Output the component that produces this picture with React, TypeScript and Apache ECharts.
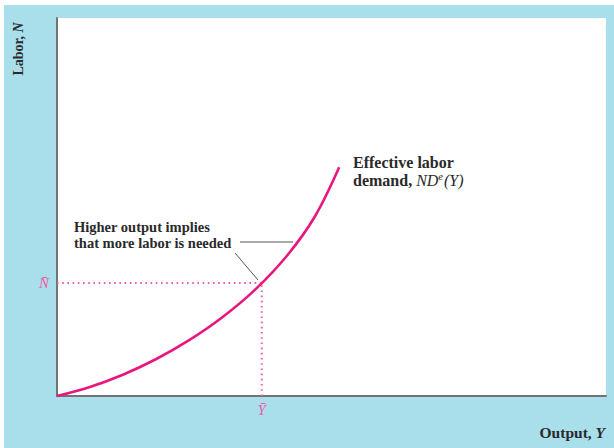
import React, { useEffect, useRef } from "react";
import * as echarts from "echarts";

// Effective labor demand curve ND^e(Y): output (x) vs labor (y), axis units 0..100
const outputY = [0, 6, 12, 18, 24, 30, 36, 42, 47, 51.4];
const laborN = [0, 2.4, 5.64, 9.72, 14.7, 20.7, 28.0, 37.3, 47.55, 60.5];
const yBar = 37.3;
const nBar = 29.9;
const barLabels = ["Y\u0304", "N\u0304"];
const curveLabel = ["Effective labor", "demand, "];
const noteLines = ["Higher output implies", "that more labor is needed"];

const MAGENTA = "#e8177f";
const DOT = "#ee5fa3";
const TEXT = "#2a2a2a";
const SERIF = "'Liberation Serif', 'DejaVu Serif', serif";

export default function App() {
  const ref = useRef<HTMLDivElement>(null);
  useEffect(() => {
    if (!ref.current) return;
    const chart = echarts.init(ref.current, null, { renderer: "svg" });
    const curve = outputY.map((x, i) => [x, laborN[i]]);
    const barLabelStyle = {
      show: true,
      color: DOT,
      fontFamily: SERIF,
      fontStyle: "italic",
      fontSize: 15,
    };
    chart.setOption({
      animation: false,
      backgroundColor: "#a9deeb",
      grid: {
        left: 57,
        top: 18,
        right: 8,
        bottom: 52,
        show: true,
        backgroundColor: "#ffffff",
        borderWidth: 0,
      },
      xAxis: {
        type: "value",
        min: 0,
        max: 100,
        axisLine: { show: true, lineStyle: { color: "#737373", width: 2 } },
        axisTick: { show: false },
        axisLabel: {
          ...barLabelStyle,
          customValues: [yBar],
          margin: 6,
          formatter: () => barLabels[0],
        },
        splitLine: { show: false },
      },
      yAxis: {
        type: "value",
        min: 0,
        max: 100,
        axisLine: { show: true, lineStyle: { color: "#737373", width: 2 } },
        axisTick: { show: false },
        axisLabel: {
          ...barLabelStyle,
          customValues: [nBar],
          margin: 8,
          formatter: () => barLabels[1],
        },
        splitLine: { show: false },
      },
      series: [
        {
          type: "line",
          data: [
            [0, nBar],
            [yBar, nBar],
          ],
          symbol: "none",
          lineStyle: { color: DOT, width: 2, type: [1.6, 3.6] },
          z: 2,
        },
        {
          type: "line",
          data: [
            [yBar, 0],
            [yBar, nBar],
          ],
          symbol: "none",
          lineStyle: { color: DOT, width: 2, type: [1.6, 3.6] },
          z: 2,
        },
        {
          type: "line",
          data: curve,
          smooth: 0.35,
          symbol: "none",
          lineStyle: { color: MAGENTA, width: 2.6 },
          z: 3,
        },
      ],
      graphic: [
        { type: "rect", shape: { x: 0, y: 0, width: 614, height: 5 }, style: { fill: "#ffffff" } },
        { type: "rect", shape: { x: 0, y: 0, width: 4, height: 448 }, style: { fill: "#ffffff" } },
        {
          type: "text",
          x: 18,
          y: 49,
          rotation: Math.PI / 2,
          style: {
            text: "{b|Labor, }{i|N}",
            align: "center",
            verticalAlign: "middle",
            rich: {
              b: { fontFamily: SERIF, fontWeight: "bold", fontSize: 14, fill: TEXT },
              i: { fontFamily: SERIF, fontWeight: "bold", fontStyle: "italic", fontSize: 14, fill: TEXT },
            },
          },
        },
        {
          type: "text",
          x: 605,
          y: 432,
          style: {
            text: "{b|Output, }{i|Y}",
            align: "right",
            verticalAlign: "middle",
            rich: {
              b: { fontFamily: SERIF, fontWeight: "bold", fontSize: 15.5, fill: TEXT },
              i: { fontFamily: SERIF, fontWeight: "bold", fontStyle: "italic", fontSize: 15.5, fill: TEXT },
            },
          },
        },
        {
          type: "text",
          x: 353,
          y: 153,
          style: {
            text: curveLabel[0] + "\n{b|" + curveLabel[1] + "}{i|ND}{s|e}{i|(Y)}",
            fontFamily: SERIF,
            fontWeight: "bold",
            fontSize: 16,
            lineHeight: 18,
            fill: TEXT,
            rich: {
              b: { fontFamily: SERIF, fontWeight: "bold", fontSize: 16, fill: TEXT, lineHeight: 18 },
              i: { fontFamily: SERIF, fontStyle: "italic", fontSize: 16, fill: TEXT, lineHeight: 18 },
              s: { fontFamily: SERIF, fontStyle: "italic", fontSize: 10.5, fill: TEXT, verticalAlign: "top", lineHeight: 18, padding: [0, 1, 6, 0] },
            },
          },
        },
        {
          type: "text",
          x: 74,
          y: 219,
          style: {
            text: noteLines.join("\n"),
            fontFamily: SERIF,
            fontWeight: "bold",
            fontSize: 14.5,
            lineHeight: 16,
            fill: TEXT,
          },
        },
        {
          type: "line",
          shape: { x1: 240, y1: 242, x2: 293, y2: 242 },
          style: { stroke: "#555", lineWidth: 1 },
        },
        {
          type: "line",
          shape: { x1: 235, y1: 253, x2: 258, y2: 280 },
          style: { stroke: "#555", lineWidth: 1 },
        },
      ],
    });
    return () => chart.dispose();
  }, []);
  return (
    <div
      ref={ref}
      style={{ position: "fixed", left: 0, top: 0, width: 614, height: 448 }}
    />
  );
}
